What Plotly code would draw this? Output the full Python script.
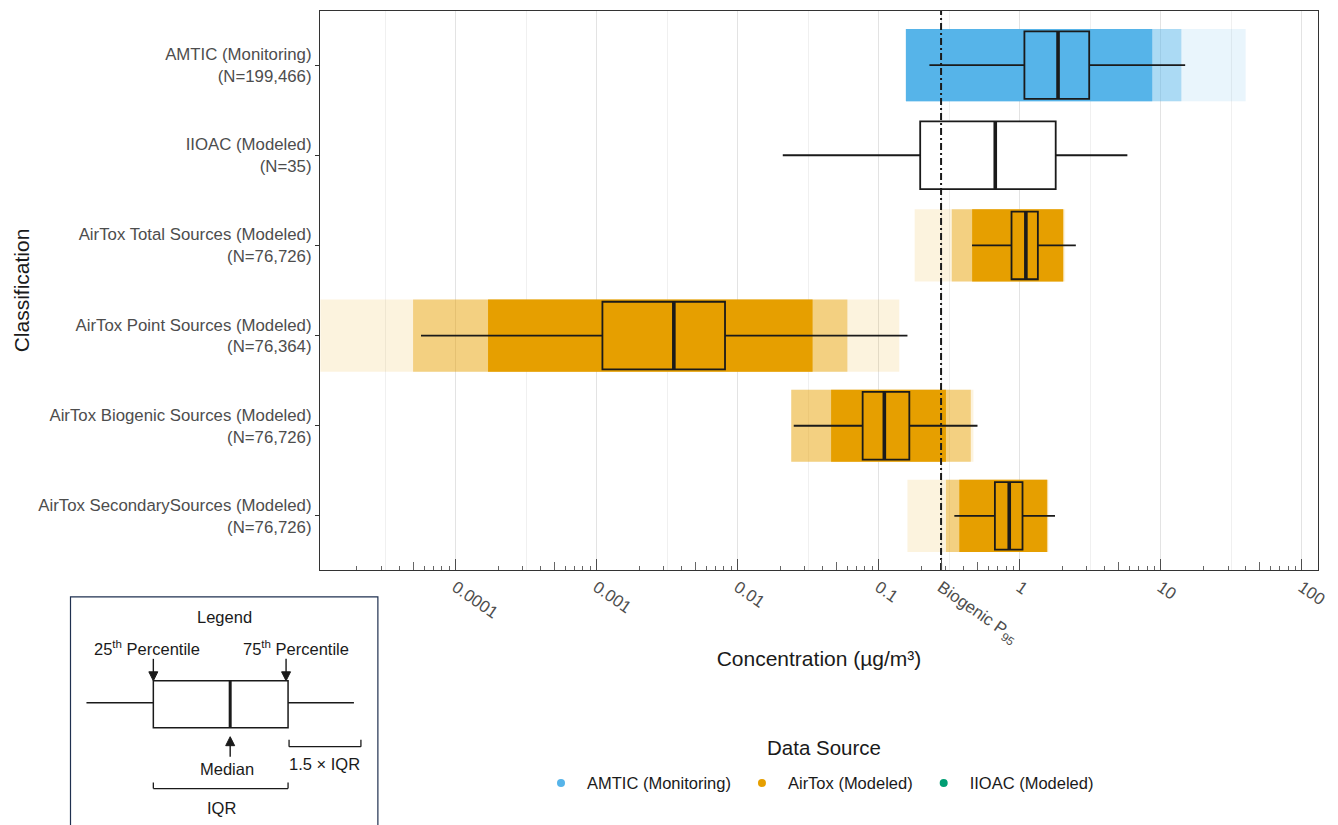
import plotly.graph_objects as go

# ---------------- data ----------------
CATEGORIES = [
    "AMTIC (Monitoring)<br>(N=199,466)",
    "IIOAC (Modeled)<br>(N=35)",
    "AirTox Total Sources (Modeled)<br>(N=76,726)",
    "AirTox Point Sources (Modeled)<br>(N=76,364)",
    "AirTox Biogenic Sources (Modeled)<br>(N=76,726)",
    "AirTox SecondarySources (Modeled)<br>(N=76,726)",
]
SOURCE = ["AMTIC (Monitoring)", "IIOAC (Modeled)", "AirTox (Modeled)",
          "AirTox (Modeled)", "AirTox (Modeled)", "AirTox (Modeled)"]

Q1 = [1.08, 0.197, 0.875, 0.00110, 0.0770, 0.667]
MEDIAN = [1.87, 0.671, 1.106, 0.00353, 0.1097, 0.843]
Q3 = [3.11, 1.80, 1.345, 0.00814, 0.165, 1.047]
LOWER_WHISKER = [0.229, 0.0209, 0.459, 0.0000569, 0.0250, 0.344]
UPPER_WHISKER = [14.9, 5.80, 2.50, 0.160, 0.502, 1.78]

# extent of the jittered point clouds (dense core, medium, sparse fringe)
CLOUD_CORE_LO = [0.156, None, 0.46, 0.00017, 0.046, 0.373]
CLOUD_CORE_HI = [8.7, None, 2.03, 0.034, 0.30, 1.56]
CLOUD_MID_LO = [0.156, None, 0.33, 0.00005, 0.024, 0.30]
CLOUD_MID_HI = [14.0, None, 2.05, 0.06, 0.45, 1.58]
CLOUD_SPARSE_LO = [0.156, None, 0.18, 0.000011, 0.024, 0.16]
CLOUD_SPARSE_HI = [40.0, None, 2.1, 0.14, 0.47, 1.6]

BIOGENIC_P95 = 0.277

LEGEND_TITLE = "Data Source"
LEGEND_SOURCES = ["AMTIC (Monitoring)", "AirTox (Modeled)", "IIOAC (Modeled)"]
SOURCE_COLORS = {"AMTIC (Monitoring)": "#56B4E9",
                 "AirTox (Modeled)": "#E69F00",
                 "IIOAC (Modeled)": "#009E73"}

MAJOR_TICKS = [0.0001, 0.001, 0.01, 0.1, 1, 10, 100]
MAJOR_LABELS = ["0.0001", "0.001", "0.01", "0.1", "1", "10", "100"]
P95_LABEL = "Biogenic P<sub>95</sub>"

# ---------------- layout constants ----------------
X_RANGE = [-4.961, 2.115]
Y_RANGE = [5.6, -0.6]
decades = range(-5, 3)
HALF_DECADES = [10 ** (d + 0.5) for d in decades]
LOG_SHORT = [k * 10 ** d for d in decades for k in (2, 3, 4, 6, 7, 8, 9)]
LOG_MID = [5 * 10 ** d for d in decades]

L, R, T, B = 320, 18, 10, 255
W, H = 1338, 825
PW, PH = W - L - R, H - T - B


def X(px):
    return (px - L) / PW


def Y(py):
    return (T + PH - py) / PH


fig = go.Figure()

# point clouds
layers = [(CLOUD_SPARSE_LO, CLOUD_SPARSE_HI, 0.13),
          (CLOUD_MID_LO, CLOUD_MID_HI, 0.42),
          (CLOUD_CORE_LO, CLOUD_CORE_HI, 1.0)]
for lo_list, hi_list, op in layers:
    for cat, src, lo, hi in zip(CATEGORIES, SOURCE, lo_list, hi_list):
        if lo is None:
            continue
        fig.add_trace(go.Bar(
            y=[cat], x=[hi - lo], base=[lo], orientation="h",
            width=0.8, marker=dict(color=SOURCE_COLORS[src], line=dict(width=0)),
            opacity=op, showlegend=False, hoverinfo="skip"))

# boxes
for i, cat in enumerate(CATEGORIES):
    src = SOURCE[i]
    fill = "#ffffff" if src == "IIOAC (Modeled)" else SOURCE_COLORS[src]
    fig.add_trace(go.Box(
        y=[cat], q1=[Q1[i]], median=[MEDIAN[i]], q3=[Q3[i]],
        lowerfence=[LOWER_WHISKER[i]], upperfence=[UPPER_WHISKER[i]],
        orientation="h", fillcolor=fill, width=0.75, whiskerwidth=0,
        line=dict(color="#1a1a1a", width=1.8), boxpoints=False,
        showlegend=False))

# thick median lines
fig.add_trace(go.Scatter(
    x=MEDIAN, y=CATEGORIES, mode="markers",
    marker=dict(symbol="line-ns", size=48, color="#1a1a1a",
                line=dict(width=3.6, color="#1a1a1a")),
    showlegend=False, hoverinfo="skip"))

# biogenic P95 reference line
fig.add_trace(go.Scatter(
    x=[BIOGENIC_P95, BIOGENIC_P95], y=[0, 1], mode="lines",
    line=dict(color="#1a1a1a", width=2, dash="7px,3px,2px,3px"),
    xaxis="x2", yaxis="y2", showlegend=False, hoverinfo="skip"))

# legend entries
for src in LEGEND_SOURCES:
    fig.add_trace(go.Scatter(
        x=[None], y=[None], mode="markers", name=src,
        marker=dict(color=SOURCE_COLORS[src], size=8)))

font_family = "Liberation Sans, Arial, sans-serif"
TICK_SIZE = 16.8
fig.update_layout(
    width=W, height=H,
    margin=dict(l=L, r=R, t=T, b=B),
    plot_bgcolor="white", paper_bgcolor="white",
    barmode="overlay", boxmode="overlay",
    font=dict(family=font_family, color="#1a1a1a", size=14),
    xaxis=dict(
        type="log", range=X_RANGE,
        tickvals=MAJOR_TICKS + [BIOGENIC_P95],
        ticktext=MAJOR_LABELS + [P95_LABEL],
        tickangle=35, ticks="inside", ticklen=11, tickwidth=1.2,
        tickcolor="#4d4d4d",
        tickfont=dict(size=TICK_SIZE, color="#4d4d4d"),
        showgrid=True, gridcolor="#e3e3e3", gridwidth=1,
        minor=dict(tickvals=HALF_DECADES, showgrid=True,
                   gridcolor="#f0f0f0", gridwidth=0.7, ticks=""),
        showline=True, linecolor="#333333", linewidth=1.2, mirror=True,
        zeroline=False,
        title=dict(text="Concentration (µg/m³)", font=dict(size=21),
                   standoff=4),
    ),
    yaxis=dict(
        type="category", categoryorder="array", categoryarray=CATEGORIES,
        range=Y_RANGE, showgrid=False,
        ticks="outside", ticklen=4, tickcolor="#333333",
        tickfont=dict(size=TICK_SIZE, color="#4d4d4d"),
        showline=True, linecolor="#333333", linewidth=1.2, mirror=True,
        zeroline=False,
        title=dict(text="Classification", font=dict(size=21), standoff=2),
    ),
    xaxis2=dict(
        type="log", range=X_RANGE, overlaying="x", anchor="y2", side="bottom",
        tickvals=LOG_SHORT, ticks="inside", ticklen=4, tickwidth=1,
        tickcolor="#666666", showticklabels=False, showgrid=False,
        minor=dict(tickvals=LOG_MID, ticks="inside", ticklen=8,
                   tickcolor="#666666", showgrid=False),
        showline=False, zeroline=False,
    ),
    yaxis2=dict(overlaying="y", range=[0, 1], visible=False),
    legend=dict(
        orientation="h", x=X(818), xanchor="center", y=Y(766), yanchor="top",
        itemwidth=42,
        font=dict(size=16.5, color="#1a1a1a"),
    ),
)

# legend title
fig.add_annotation(text=LEGEND_TITLE, x=X(825), y=Y(748), xref="paper",
                   yref="paper", showarrow=False, xanchor="center",
                   yanchor="middle", font=dict(size=20.5, color="#1a1a1a"))

# ---------------- box-plot explanation legend ----------------
LC = "#1a1a1a"


def line(x0, y0, x1, y1, w=1.3):
    return dict(type="line", x0=X(x0), x1=X(x1), y0=Y(y0), y1=Y(y1),
                line=dict(color=LC, width=w))


def tri(tx, ty, direction):
    # filled arrow head with its tip at (tx, ty)
    d = 9 if direction == "down" else -9
    p = [(tx, ty), (tx - 4.5, ty - d), (tx + 4.5, ty - d)]
    path = "M {} {} L {} {} L {} {} Z".format(
        X(p[0][0]), Y(p[0][1]), X(p[1][0]), Y(p[1][1]), X(p[2][0]), Y(p[2][1]))
    return dict(type="path", path=path, fillcolor=LC, line=dict(color=LC, width=1))


shapes = [
    dict(type="rect", x0=X(70), x1=X(378), y0=Y(597), y1=Y(840),
         line=dict(color="#1f3050", width=1.2), fillcolor="rgba(0,0,0,0)"),
    dict(type="rect", x0=X(153), x1=X(288), y0=Y(681), y1=Y(728),
         line=dict(color=LC, width=1.5)),
    line(230, 681, 230, 728, 3),
    line(86, 703, 153, 703, 1.5),
    line(288, 703, 354, 703, 1.5),
    # 1.5 x IQR bracket
    line(289, 747, 361, 747), line(289, 740, 289, 747), line(361, 740, 361, 747),
    # IQR bracket
    line(153, 789, 288, 789), line(153, 783, 153, 789), line(288, 783, 288, 789),
    # arrows
    line(153, 659, 153, 673, 1.4), tri(153, 681, "down"),
    line(286, 659, 286, 673, 1.4), tri(286, 681, "down"),
    line(230, 757, 230, 744, 1.4), tri(230, 737, "up"),
]
for s in shapes:
    s.update(xref="paper", yref="paper", layer="above")
fig.update_layout(shapes=shapes)

texts = [
    ("Legend", 224, 617),
    ("25<sup>th</sup> Percentile", 147, 648),
    ("75<sup>th</sup> Percentile", 296, 648),
    ("Median", 227, 769),
    ("1.5 × IQR", 325, 764),
    ("IQR", 221, 808),
]
for txt, px, py in texts:
    fig.add_annotation(text=txt, x=X(px), y=Y(py), xref="paper", yref="paper",
                       showarrow=False, xanchor="center", yanchor="middle",
                       font=dict(size=16.5, color=LC))

fig.write_html("out.html")
